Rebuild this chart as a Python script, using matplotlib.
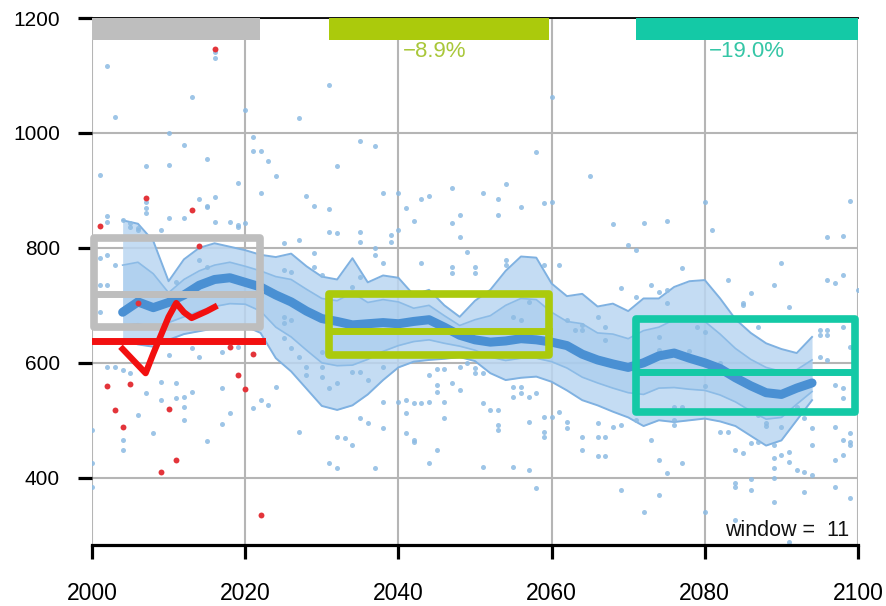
import matplotlib
matplotlib.use('Agg')
import matplotlib.pyplot as plt
from matplotlib.patches import Rectangle

plt.rcParams['font.family'] = ['Liberation Sans', 'DejaVu Sans']

# observations (red dots) and their 11-yr running mean
obs_years = [2001, 2002, 2003, 2004, 2005, 2006, 2007, 2009, 2010, 2011,
             2013, 2014, 2016, 2018, 2019, 2020, 2021, 2022]
obs_vals = [838, 560, 518, 489, 564, 704, 887, 410, 520, 431,
            866, 803, 1146, 628, 579, 555, 616, 335]
obs_run_years = list(range(2004, 2017))
obs_run_vals = [624, 610, 596, 582, 616, 648, 680, 704, 688, 678, 684, 690, 697]
obs_mean = 638

# model members (blue dots), (year, value)
pts_a = [(2002, 1117), (2003, 1028), (2013, 1062), (2016, 1130), (2016, 1140), (2020, 1040),
         (2010, 1000), (2012, 979), (2007, 943), (2010, 944), (2015, 955), (2019, 913),
         (2001, 927), (2021, 993), (2021, 969), (2022, 969), (2023, 951), (2024, 925),
         (2022, 896), (2004, 849), (2005, 837), (2006, 835), (2002, 856), (2014, 885),
         (2016, 889), (2015, 873), (2010, 852), (2012, 852), (2018, 845), (2019, 837),
         (2009, 831), (2007, 880), (2007, 869), (2007, 860), (2015, 871), (2016, 845),
         (2019, 840), (2020, 843), (2002, 845), (2005, 843), (2006, 831), (2001, 783),
         (2002, 788), (2003, 770), (2001, 736), (2002, 736), (2001, 689), (2002, 593),
         (2003, 593), (2004, 588), (2005, 583), (2010, 614), (2013, 626), (2014, 610),
         (2017, 619), (2019, 628), (2009, 567), (2011, 565), (2013, 550), (2007, 548),
         (2009, 536), (2011, 539), (2012, 541), (2012, 523), (2006, 510), (2012, 501),
         (2017, 557), (2018, 513), (2017, 494), (2022, 536), (2023, 527), (2021, 522),
         (2024, 558), (2004, 466), (2004, 449), (2008, 478), (2015, 464), (2000, 483),
         (2000, 426), (2000, 384), (2014, 779), (2015, 767), (2015, 744), (2009, 720),
         (2011, 740)]
pts_b = [(2031, 1083), (2027, 1026), (2032, 943), (2035, 986), (2037, 978), (2028, 890),
         (2029, 873), (2031, 868), (2038, 896), (2040, 896), (2041, 870), (2042, 847),
         (2043, 885), (2044, 890), (2047, 904), (2048, 857), (2047, 843), (2025, 808),
         (2031, 828), (2032, 826), (2035, 828), (2035, 810), (2039, 823), (2039, 810),
         (2040, 831), (2048, 819), (2049, 793), (2047, 767), (2047, 756), (2043, 774),
         (2038, 774), (2037, 800), (2037, 788), (2035, 750), (2034, 732), (2027, 814),
         (2029, 791), (2029, 767), (2030, 753), (2025, 762), (2026, 758), (2025, 680),
         (2025, 670), (2026, 675), (2025, 643), (2026, 626), (2027, 610), (2028, 593),
         (2028, 579), (2030, 593), (2030, 576), (2031, 557), (2032, 565), (2034, 584),
         (2035, 584), (2036, 570), (2038, 593), (2038, 532), (2040, 532), (2041, 536),
         (2041, 513), (2042, 530), (2043, 530), (2044, 532), (2045, 562), (2045, 550),
         (2046, 532), (2046, 504), (2047, 565), (2044, 579), (2045, 590), (2046, 590),
         (2048, 593), (2049, 600), (2048, 553), (2027, 480), (2032, 471), (2033, 470),
         (2034, 457), (2035, 504), (2036, 496), (2038, 487), (2041, 478), (2042, 466),
         (2045, 449), (2030, 619), (2031, 426), (2032, 417), (2037, 417), (2042, 463),
         (2044, 426)]
pts_c = [(2050, 767), (2050, 756), (2050, 591), (2050, 583), (2060, 1062), (2051, 896),
         (2053, 885), (2054, 911), (2053, 857), (2056, 872), (2058, 967), (2059, 878),
         (2060, 880), (2065, 925), (2068, 842), (2072, 844), (2054, 779), (2054, 770),
         (2059, 770), (2061, 770), (2070, 805), (2071, 797), (2069, 730), (2073, 736),
         (2074, 723), (2071, 715), (2057, 706), (2056, 675), (2055, 680), (2064, 666),
         (2064, 657), (2062, 675), (2063, 657), (2066, 680), (2067, 640), (2067, 663),
         (2074, 645), (2074, 623), (2051, 583), (2051, 530), (2052, 518), (2053, 518),
         (2053, 492), (2053, 483), (2055, 558), (2056, 558), (2056, 548), (2055, 541),
         (2057, 541), (2058, 548), (2057, 497), (2059, 471), (2059, 480), (2061, 515),
         (2062, 497), (2062, 487), (2064, 471), (2066, 496), (2066, 471), (2067, 471),
         (2068, 489), (2069, 492), (2064, 449), (2066, 437), (2067, 438), (2071, 501),
         (2073, 466), (2074, 431), (2051, 419), (2055, 419), (2057, 414), (2059, 506),
         (2060, 506), (2058, 383), (2069, 379), (2072, 341), (2074, 370)]
pts_d = [(2075, 847), (2075, 727), (2075, 409), (2077, 426), (2080, 880), (2081, 831),
         (2099, 882), (2096, 819), (2098, 821), (2080, 341), (2084, 449), (2085, 443),
         (2084, 391), (2086, 397), (2086, 379), (2087, 463), (2089, 457), (2089, 435),
         (2089, 417), (2089, 400), (2089, 357), (2090, 440), (2091, 428), (2092, 414),
         (2093, 376), (2094, 457), (2094, 405), (2097, 431), (2098, 440), (2097, 384),
         (2099, 365), (2091, 289), (2084, 327), (2099, 463), (2077, 765), (2083, 744),
         (2086, 722), (2089, 736), (2090, 774), (2091, 697), (2096, 744), (2097, 739),
         (2098, 753), (2100, 727), (2085, 704), (2085, 700), (2087, 663), (2095, 657),
         (2096, 657), (2095, 649), (2096, 649), (2098, 663), (2099, 628), (2095, 610),
         (2096, 605), (2097, 562), (2098, 557), (2098, 539), (2075, 704), (2079, 663),
         (2080, 654), (2076, 523), (2076, 501), (2076, 492), (2077, 523), (2082, 480),
         (2083, 480), (2087, 510), (2088, 496), (2088, 490), (2090, 489), (2092, 523),
         (2093, 504), (2086, 461), (2091, 445), (2094, 487), (2097, 489), (2098, 466),
         (2099, 478), (2099, 457), (2093, 410), (2084, 384), (2078, 620), (2082, 600),
         (2086, 560), (2080, 560)]

# ensemble running statistics
band_years = list(range(2004, 2095, 2))
ens_mean = [688, 706, 696, 705, 718, 735, 745, 748, 740, 732,
            718, 706, 690, 677, 672, 666, 668, 670, 668, 672,
            675, 662, 648, 640, 636, 638, 642, 640, 636, 630,
            615, 605, 598, 592, 600, 612, 617, 608, 600, 590,
            574, 560, 548, 545, 556, 565]
outer_hi = [848, 842, 812, 742, 780, 800, 808, 802, 796, 788,
            784, 790, 768, 750, 745, 782, 740, 752, 748, 718,
            727, 700, 680, 708, 727, 760, 785, 783, 738, 716,
            720, 698, 703, 690, 712, 712, 732, 742, 744, 712,
            676, 652, 634, 624, 617, 645]
inner_hi = [770, 775, 755, 722, 745, 760, 770, 775, 768, 760,
            750, 745, 728, 712, 708, 722, 705, 710, 706, 695,
            700, 682, 665, 675, 682, 700, 712, 710, 688, 672,
            668, 652, 650, 642, 656, 662, 675, 675, 672, 650,
            625, 606, 592, 585, 588, 605]
inner_lo = [665, 668, 662, 670, 680, 690, 698, 703, 702, 690,
            662, 645, 622, 600, 595, 596, 606, 620, 630, 637,
            640, 634, 629, 622, 610, 604, 608, 608, 602, 591,
            575, 565, 556, 548, 545, 556, 557, 554, 552, 544,
            532, 516, 502, 505, 528, 550]
outer_lo = [640, 632, 628, 640, 650, 655, 660, 662, 664, 652,
            608, 585, 555, 525, 518, 526, 545, 570, 592, 602,
            605, 607, 610, 603, 582, 570, 574, 576, 567, 552,
            535, 526, 515, 505, 490, 500, 497, 500, 503, 498,
            490, 473, 456, 465, 500, 535]

# periods: reference / mid-century / end-century
per_start = [2000.3, 2031, 2071]
per_end = [2021.9, 2059.7, 2099.6]
per_lo = [663, 613, 515]
per_mid = [720, 656, 583.5]
per_hi = [818, 720, 676]
per_colors = ['#bebebe', '#abca0c', '#14c9a6']
per_labels = ['', '\u22128.9%', '\u221219.0%']
per_text_colors = ['#bebebe', '#a9c73a', '#35c6a6']

fig = plt.figure(figsize=(8.87, 6.06), dpi=100)
ax = fig.add_axes([92 / 887, 61 / 606, 766 / 887, 527 / 606])
ax.set_xlim(2000, 2100)
ax.set_ylim(283, 1200)

# band
ax.fill_between(band_years, outer_lo, outer_hi, color='#bad6f1', alpha=0.85, lw=0, zorder=1)
ax.fill_between(band_years, inner_lo, inner_hi, color='#9fc7ec', alpha=0.5, lw=0, zorder=1.1)
for s in [outer_hi, outer_lo]:
    ax.plot(band_years, s, color='#7fb1e1', lw=1.4, zorder=1.2)
for s in [inner_hi, inner_lo]:
    ax.plot(band_years, s, color='#8cbbe6', lw=1.2, zorder=1.2)

# model dots
for pts in [pts_a, pts_b, pts_c, pts_d]:
    xs, ys = zip(*pts)
    ax.scatter(xs, ys, s=13, color='#8dbbe3', alpha=0.85, lw=0, zorder=2)

ax.plot(band_years, ens_mean, color='#4a90d3', lw=6.5, solid_capstyle='round', zorder=3)

# period boxes + top bars
for i in range(3):
    x0, x1 = per_start[i], per_end[i]
    ax.add_patch(Rectangle((x0, per_lo[i]), x1 - x0, per_hi[i] - per_lo[i], fill=False,
                           ec=per_colors[i], lw=5.5, joinstyle='round', zorder=4, clip_on=False))
    ax.plot([x0, x1], [per_mid[i], per_mid[i]], color=per_colors[i], lw=5, zorder=4)
    bx0 = 2000 if i == 0 else x0
    bx1 = 2100 if i == 2 else x1
    ax.add_patch(Rectangle((bx0, 1162), bx1 - bx0, 38, color=per_colors[i], lw=0, zorder=4))
    if per_labels[i]:
        ax.text(x0 + 9.6, 1160, per_labels[i], color=per_text_colors[i], fontsize=16,
                ha='left', va='top', zorder=5)

# observations
ax.plot([2000, 2022.2], [obs_mean, obs_mean], color='#f21010', lw=5, zorder=5)
ax.scatter(obs_years, obs_vals, s=18, color='#e3343a', lw=0, zorder=5)
ax.plot(obs_run_years, obs_run_vals, color='#f21010', lw=4.5, zorder=6)

ax.text(0.988, 0.008, 'window =  11', transform=ax.transAxes, ha='right', va='bottom',
        fontsize=15.5, color='#111111', zorder=7)

# axes styling
ax.set_xticks(range(2000, 2101, 20))
ax.set_yticks([400, 600, 800, 1000, 1200])
ax.grid(True, color='#b5b5b5', lw=1.5)
ax.set_axisbelow(True)
ax.spines['left'].set_visible(False)
ax.spines['right'].set_visible(False)
ax.spines['bottom'].set_linewidth(2.3)
ax.spines['top'].set_linewidth(1.3)
ax.tick_params(axis='x', length=10, width=2.3, pad=17, labelsize=16.5)
ax.tick_params(axis='y', length=10, width=2.3, pad=13, labelsize=15)

fig.savefig('out.png', dpi=100)
